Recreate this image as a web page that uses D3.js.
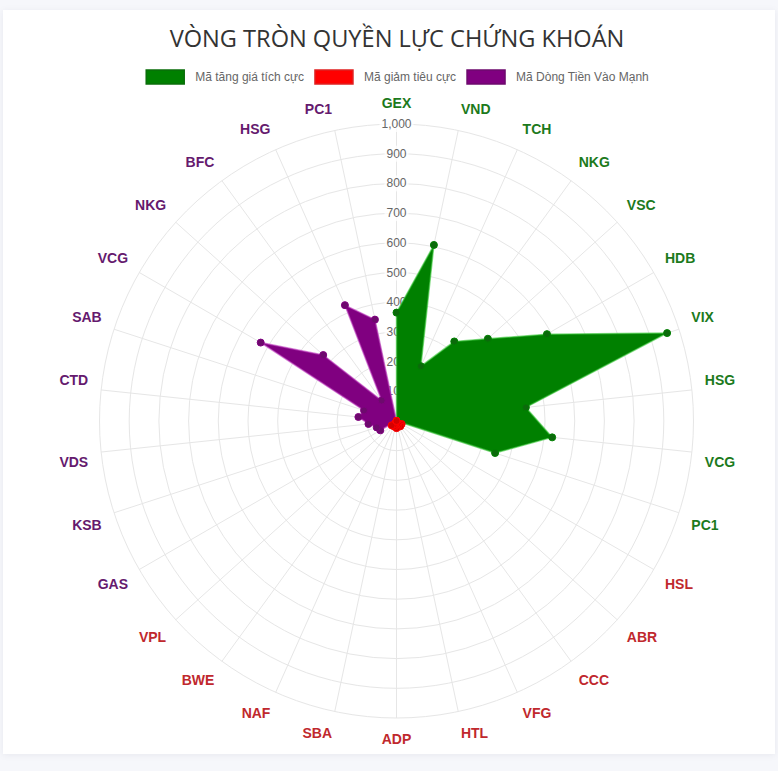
<!DOCTYPE html>
<html><head><meta charset="utf-8">
<script src="https://cdn.jsdelivr.net/npm/d3@7"></script>
<style>html,body{margin:0;padding:0;background:#f6f7fb;} svg{display:block;}</style>
</head><body>
<svg id="c" width="778" height="771"></svg>
<script>
// ---- data ----
const greenCodes  = ["GEX","VND","TCH","NKG","VSC","HDB","VIX","HSG","VCG","PC1"];
const redCodes    = ["HSL","ABR","CCC","VFG","HTL","ADP","SBA","NAF","BWE","VPL"];
const purpleCodes = ["GAS","KSB","VDS","CTD","SAB","VCG","NKG","BFC","HSG","PC1"];
const greenValues  = [365, 606, 202, 331, 414, 585, 958, 438, 527, 349];
const redValues    = [20, 18, 22, 16, 20, 24, 18, 20, 16, 22];
const purpleValues = [63, 70, 95, 129, 115, 528, 332, 85, 427, 349];
const tickValues = [100,200,300,400,500,600,700,800,900,1000];
const seriesNames = ["Mã tăng giá tích cực","Mã giảm tiêu cực","Mã Dòng Tiền Vào Mạnh"];
const titleText = "VÒNG TRÒN QUYỀN LỰC CHỨNG KHOÁN";

// ---- styles ----
const fillColors  = ["#008000","#ff0000","#800080"];
const pointColors = ["#0b6a0b","#d40000","#6d0a6d"];
const edgeColors  = ["rgba(60,200,60,0.6)","rgba(255,60,60,0.6)","rgba(190,60,190,0.6)"];
const legendEdge  = ["#0a6e0a","#e02020","#6d0a6d"];
const labelColors = ["#1c7a1c","#c0282d","#651a6e"];

const labels = greenCodes.concat(redCodes, purpleCodes);
const groupOf = labels.map((d,i)=> i<10?0:(i<20?1:2));
const n = labels.length;
function full(vals, offset){ return labels.map((d,i)=> (i>=offset && i<offset+10) ? vals[i-offset] : 0); }
const datasets = [full(greenValues,0), full(redValues,10), full(purpleValues,20)];

const svg = d3.select("#c");
svg.append("rect").attr("x",3).attr("y",10).attr("width",772).attr("height",744)
  .attr("fill","#fff").style("filter","drop-shadow(0 1px 3px rgba(0,0,40,0.06))");

const cx = 396.5, cy = 421, R = 297;
const r = d3.scaleLinear().domain([0,1000]).range([0,R]);
const ang = d3.scaleLinear().domain([0,n]).range([0,2*Math.PI]);
const g = svg.append("g").attr("transform",`translate(${cx},${cy})`);

// grid
g.selectAll("circle.grid").data(tickValues).join("circle").attr("class","grid")
  .attr("r",d=>r(d)).attr("fill","none").attr("stroke","#e6e6e6").attr("stroke-width",1);
g.selectAll("line.ax").data(labels).join("line").attr("class","ax")
  .attr("x1",0).attr("y1",0)
  .attr("x2",(d,i)=>r(1000)*Math.sin(ang(i))).attr("y2",(d,i)=>-r(1000)*Math.cos(ang(i)))
  .attr("stroke","#e6e6e6").attr("stroke-width",1);

// point labels
const lh = 14*1.2;
g.selectAll("text.pl").data(labels).join("text").attr("class","pl")
  .each(function(d,i){
    const deg = i*360/n;
    const dist = R + 13;
    const x = dist*Math.sin(ang(i)), y0 = -dist*Math.cos(ang(i));
    let y = y0;
    if (deg===90||deg===270) y = y0; else if (deg>270||deg<90) y = y0 - lh/2; else y = y0 + lh/2;
    const anchor = (deg===0||deg===180) ? "middle" : (deg<180 ? "start" : "end");
    d3.select(this).attr("x",x).attr("y",y).attr("text-anchor",anchor)
      .attr("dominant-baseline","central");
  })
  .attr("font-family","'Liberation Sans', Arial, sans-serif").attr("font-weight","bold").attr("font-size",14)
  .attr("fill",(d,i)=>labelColors[groupOf[i]])
  .text(d=>d);

// tick labels
const fmt = d3.format(",");
const tg = g.selectAll("g.tick").data(tickValues).join("g").attr("class","tick")
  .attr("transform",d=>`translate(0,${-r(d)})`);
tg.append("text").attr("text-anchor","middle").attr("dominant-baseline","central")
  .attr("font-family","'Liberation Sans', Arial, sans-serif").attr("font-size",12).attr("fill","#666")
  .text(d=>fmt(d));
tg.each(function(){
  const t = d3.select(this).select("text");
  const w = t.node().getComputedTextLength();
  d3.select(this).insert("rect","text").attr("x",-w/2-2).attr("y",-8).attr("width",w+4).attr("height",16)
    .attr("fill","rgba(255,255,255,0.75)");
});

// datasets
const radial = d3.lineRadial().angle((d,i)=>ang(i)).radius(d=>r(d)).curve(d3.curveLinearClosed);
const order = [0,2,1];
order.forEach(k=>{
  const ds = datasets[k];
  g.append("path").datum(ds).attr("d",radial)
    .attr("fill",fillColors[k]).attr("stroke",edgeColors[k]).attr("stroke-width",1.5)
    .attr("stroke-linejoin","round");
  g.selectAll("circle.p"+k).data(ds).join("circle").attr("class","p"+k)
    .attr("cx",(d,i)=>r(d)*Math.sin(ang(i))).attr("cy",(d,i)=>-r(d)*Math.cos(ang(i)))
    .attr("r",3.5).attr("fill",pointColors[k]).attr("stroke",fillColors[k]).attr("stroke-width",1);
});

// title
const title = svg.append("text").attr("x",397).attr("y",47).attr("text-anchor","middle")
  .attr("font-family","'Open Sans', 'Noto Sans', sans-serif").attr("font-weight",500)
  .attr("font-size",22).attr("fill","#333")
  .text(titleText);
const tw = title.node().getComputedTextLength();
title.attr("font-size", 22*455/tw);

// legend
const lg = svg.append("g");
const items = lg.selectAll("g.li").data(seriesNames).join("g").attr("class","li");
items.append("text").attr("x",50).attr("y",77).attr("dominant-baseline","central")
  .attr("font-family","'Liberation Sans', Arial, sans-serif").attr("font-size",12).attr("fill","#666")
  .text(d=>d);
const widths = [];
items.each(function(){ widths.push(40+10+d3.select(this).select("text").node().getComputedTextLength()); });
const total = d3.sum(widths) + 10*(widths.length-1);
let xx = 397 - total/2;
items.each(function(d,i){
  d3.select(this).attr("transform",`translate(${xx},0)`);
  d3.select(this).insert("rect","text").attr("x",1).attr("y",70).attr("width",38).attr("height",14)
    .attr("fill",fillColors[i]).attr("stroke",legendEdge[i]).attr("stroke-width",1.5);
  xx += widths[i] + 10;
});
</script>
</body></html>
